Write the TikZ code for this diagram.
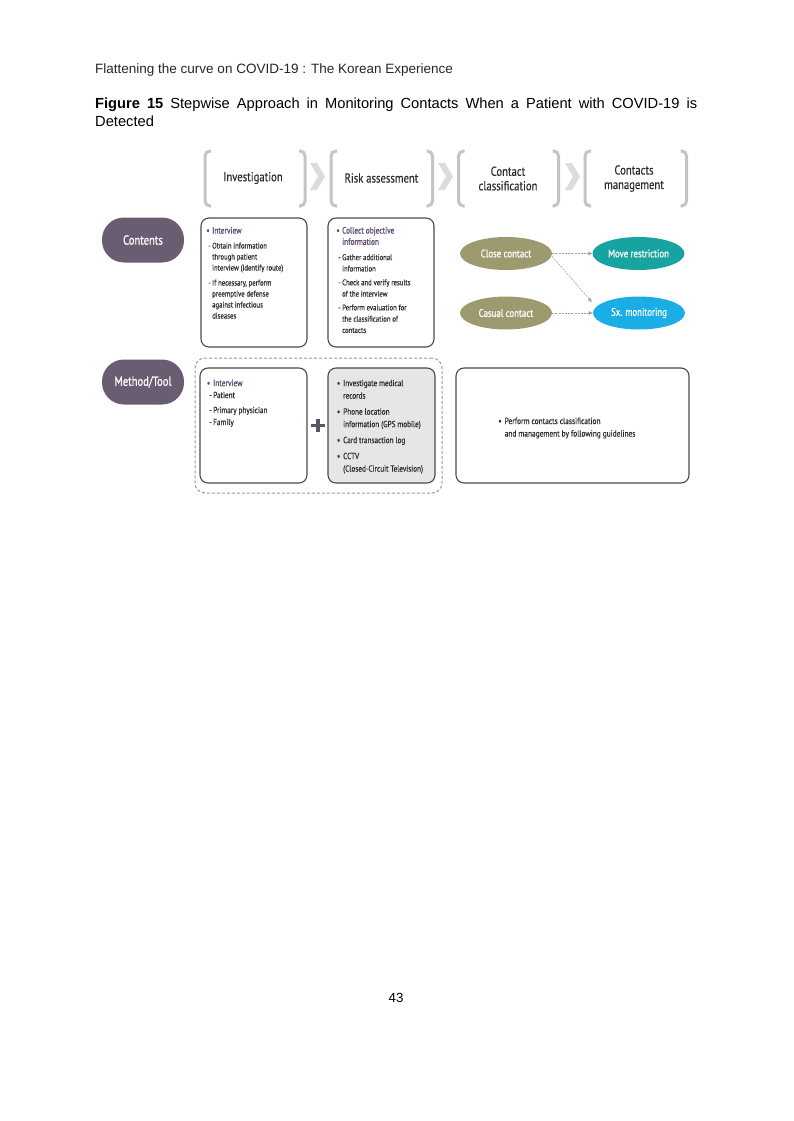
\documentclass[tikz,border=0pt]{standalone}
\usepackage{fontspec}
\setmainfont{Liberation Sans}
\newfontfamily\cond[FakeStretch=0.82,FakeBold=0.35]{PT Sans}
\newfontfamily\condm[FakeStretch=0.8,FakeBold=0.9]{PT Sans}
\usetikzlibrary{shapes.geometric,arrows.meta}
\definecolor{pillc}{HTML}{6A5D72}
\definecolor{purp}{HTML}{5E4A70}
\definecolor{olivec}{HTML}{9E9A70}
\definecolor{tealc}{HTML}{17A4A0}
\definecolor{skyc}{HTML}{1BAEE6}
\definecolor{brk}{HTML}{C4C4C4}
\definecolor{chev}{HTML}{DCDCDC}
\definecolor{boxline}{HTML}{4A4A4A}
\definecolor{txt}{HTML}{2C2C2C}
\definecolor{graybox}{HTML}{E6E6E6}
\newcommand{\headtxt}[1]{\textcolor{purp}{\condm\fontsize{9.2}{11}\selectfont #1}}
\begin{document}
\begin{tikzpicture}[x=1pt,y=-1pt,
  pillbox/.style={fill=pillc, rounded corners=22pt, minimum width=82pt, minimum height=45pt, inner sep=0pt, text=white, font=\condm\fontsize{13.2}{14}\selectfont},
  cbox/.style={draw=boxline, line width=1.1pt, rounded corners=8pt, inner sep=0pt},
  dbox/.style={draw=gray!80, line width=1pt, dash pattern=on 3pt off 2pt, rounded corners=10pt, inner sep=0pt},
  btxt/.style={anchor=north west, inner sep=0pt, align=left, text=txt},
  hdr/.style={align=center, text=txt, inner sep=0pt, font=\cond\fontsize{13}{14.5}\selectfont},
  oval/.style={ellipse, minimum width=92pt, minimum height=33pt, inner sep=0pt, text=white, font=\condm\fontsize{11}{12}\selectfont},
  brack/.style={draw=brk, line width=3pt, rounded corners=5pt},
  chevshape/.style={fill=chev, draw=none},
  flow/.style={draw=gray!75, line width=0.6pt, dash pattern=on 2pt off 1.2pt, -{Triangle[length=4pt,width=3.5pt]}},
]
\useasboundingbox (0,0) rectangle (793,1121);

% page header, caption, page number
\node[anchor=base west, inner sep=0pt, font=\fontsize{13.5}{16}\selectfont, text=black!85] (pagehead) at (95,73.5)
  {Flattening the curve on COVID-19 : The Korean Experience};
\node[anchor=north west, inner sep=0pt, text width=602pt, align=justify, font=\fontsize{14.67}{18}\selectfont] (caption) at (95,97.8)
  {\textbf{Figure 15} Stepwise Approach in Monitoring Contacts When a Patient with COVID-19 is\linebreak Detected};
\node[anchor=base, inner sep=0pt, font=\fontsize{13.3}{16}\selectfont] (pagenum) at (396,1002) {43};

% header brackets
\foreach \L/\R in {205/305, 331/432.5, 458.5/558.5, 585/686.5}{
  \draw[brack] (\L+6,151) -- (\L,151) -- (\L,206) -- (\L+6,206);
  \draw[brack] (\R-6,151) -- (\R,151) -- (\R,206) -- (\R-6,206);
}
\foreach \a in {310,438,565}{
  \fill[chevshape] (\a,163) -- (\a+7,163) -- (\a+15,176.5) -- (\a+7,190) -- (\a,190) -- (\a+8,176.5) -- cycle;
}
\node[hdr] (h1) at (253,178) {Investigation};
\node[hdr] (h2) at (381.5,178) {Risk assessment};
\node[hdr] (h3) at (508,178.5) {Contact\\classification};
\node[hdr] (h4) at (634,178.5) {Contacts\\management};

% row pills
\node[pillbox] (contents) at (143,240) {Contents};
\node[pillbox] (method) at (143,382) {Method/Tool};

% contents boxes
\node[cbox, minimum width=106pt, minimum height=129pt] (box1) at (254,282.5) {};
\node[cbox, minimum width=106pt, minimum height=129pt] (box2) at (381,282.5) {};
\node[btxt, font=\cond\fontsize{8.2}{11}\selectfont] (t1) at (212,226.8)
  {\headtxt{\llap{\textbullet\hspace{2.5pt}}Interview}\\[4pt]
   \llap{-\hspace{1.5pt}}Obtain information\\
   through patient\\
   interview (identify route)\\[4pt]
   \llap{-\hspace{1.5pt}}If necessary, perform\\
   preemptive defense\\
   against infectious\\
   diseases};
\node[btxt, font=\cond\fontsize{8.2}{11.3}\selectfont] (t2) at (342,226.8)
  {\headtxt{\llap{\textbullet\hspace{2.5pt}}Collect objective}\\
   \headtxt{information}\\[4pt]
   \llap{-\hspace{1.5pt}}Gather additional\\
   information\\[2.5pt]
   \llap{-\hspace{1.5pt}}Check and verify results\\
   of the interview\\[2.5pt]
   \llap{-\hspace{1.5pt}}Perform evaluation for\\
   the classification of\\
   contacts};

% classification ovals
\node[oval, fill=olivec] (close) at (506,253.5) {Close contact};
\node[oval, fill=olivec] (casual) at (506,313) {Casual contact};
\node[oval, fill=tealc] (move) at (638.5,253.5) {Move restriction};
\node[oval, fill=skyc] (sx) at (639,313) {Sx. monitoring};
\draw[flow] (close.east) -- (move.west);
\draw[flow] ([yshift=-3pt]close.east) -- ([xshift=-1pt,yshift=11pt]sx.west);
\draw[flow] (casual.east) -- (sx.west);

% method/tool row
\node[dbox, minimum width=247pt, minimum height=135pt] (dash) at (318.5,425.5) {};
\node[cbox, fill=white, minimum width=107pt, minimum height=115pt] (box3) at (253.5,425.5) {};
\node[cbox, fill=graybox, minimum width=107pt, minimum height=115pt] (box4) at (381.5,425.5) {};
\node[cbox, fill=white, minimum width=233pt, minimum height=115pt] (box5) at (572.5,425.5) {};
\node[btxt, font=\cond\fontsize{8.8}{12}\selectfont] (t3) at (213,379.4)
  {\headtxt{\llap{\textbullet\hspace{3pt}}Interview}\\
   \llap{-\hspace{1.5pt}}Patient\\[3pt]
   \llap{-\hspace{1.5pt}}Primary physician\\
   \llap{-\hspace{1.5pt}}Family};
\node[btxt, font=\cond\fontsize{8.8}{12.5}\selectfont] (t4) at (343,379.7)
  {\llap{\textbullet\hspace{3pt}}Investigate medical\\
   records\\[3.5pt]
   \llap{\textbullet\hspace{3pt}}Phone location\\
   information (GPS mobile)\\[3.5pt]
   \llap{\textbullet\hspace{3pt}}Card transaction log\\[3.5pt]
   \llap{\textbullet\hspace{3pt}}CCTV\\
   (Closed-Circuit Television)};
\node[btxt, font=\cond\fontsize{9}{12.5}\selectfont] (t5) at (504.5,417.5)
  {\llap{\textbullet\hspace{3pt}}Perform contacts classification\\
   and management by following guidelines};

% plus sign
\node[inner sep=0pt, minimum size=13pt] (plus) at (318,425.5) {};
\fill[pillc!90!black] ([xshift=-1.9pt]plus.north) rectangle ([xshift=1.9pt]plus.south);
\fill[pillc!90!black] ([yshift=1.9pt]plus.west) rectangle ([yshift=-1.9pt]plus.east);
\end{tikzpicture}
\end{document}
